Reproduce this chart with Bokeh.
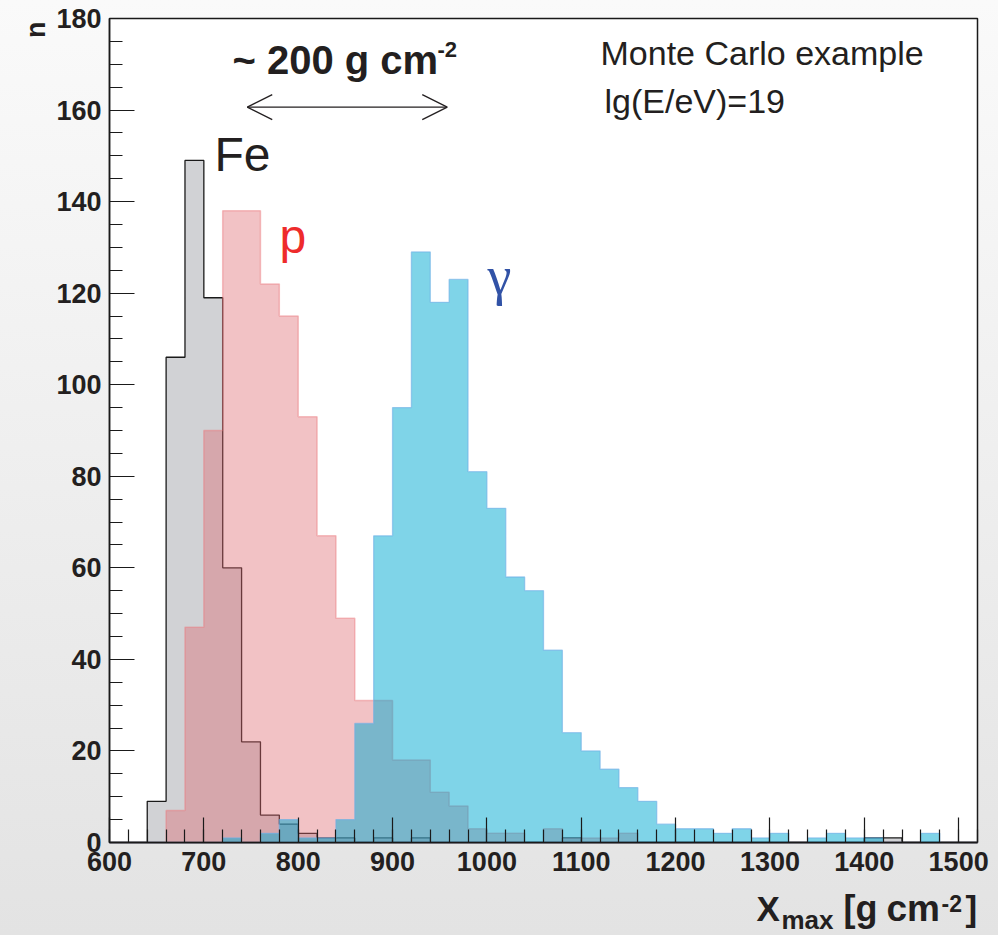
from bokeh.plotting import figure
from bokeh.models import (Range1d, SingleIntervalTicker, Label, Arrow, OpenHead,
                          LinearAxis)
from bokeh.embed import file_html
from bokeh.resources import INLINE

# ---- data (Xmax histograms, 20 g/cm^2 bins starting at 600) ----
bin_width = 20
bin_lo = list(range(600, 1520, 20))

fe_counts = [0, 0, 9, 106, 149, 119, 60, 22, 6, 4,
             2, 1, 1, 0, 1, 0, 1, 0, 0, 0,
             0, 0, 0, 0, 1, 0, 0, 0, 0, 0,
             0, 0, 0, 0, 0, 0, 0, 0, 0, 0,
             1, 1, 0, 0, 0, 0]
p_counts = [0, 0, 0, 7, 47, 90, 138, 138, 122, 115,
            93, 67, 49, 31, 31, 18, 18, 11, 8, 3,
            2, 2, 0, 3, 1, 1, 1, 2, 0, 0,
            0, 0, 0, 0, 0, 0, 0, 0, 0, 0,
            0, 0, 0, 0, 0, 0]
gamma_counts = [0, 0, 0, 0, 0, 0, 1, 0, 2, 5,
                1, 1, 5, 26, 67, 95, 129, 118, 123, 81,
                73, 58, 55, 42, 24, 20, 16, 12, 9, 4,
                3, 3, 2, 3, 1, 2, 0, 1, 2, 1,
                1, 0, 0, 2, 0, 0]

x_lim = (600, 1520)
y_lim = (0, 180)
x_tick_interval = 100
y_tick_interval = 20

# ---- layout: plot box inside the 998x935 canvas (pixels) ----
W, H = 998, 935
BOX_L, BOX_R, BOX_T, BOX_B = 109, 977, 18, 842
sx = (BOX_R - BOX_L) / (x_lim[1] - x_lim[0])
sy = (BOX_B - BOX_T) / (y_lim[1] - y_lim[0])
x_start = x_lim[0] - BOX_L / sx
x_end = x_lim[1] + (W - BOX_R) / sx
y_start = y_lim[0] - (H - BOX_B) / sy
y_end = y_lim[1] + BOX_T / sy


def px2x(px):
    return x_start + px / sx


def py2y(py):
    return y_end - py / sy


def step_polygon(lo, counts, w):
    xs = [lo[0]]
    ys = [0]
    for x, c in zip(lo, counts):
        xs += [x, x + w]
        ys += [c, c]
    xs.append(lo[-1] + w)
    ys.append(0)
    return xs, ys


FONT = "Liberation Sans"
INK = "#231f20"

p = figure(width=W, height=H,
           x_range=Range1d(x_start, x_end), y_range=Range1d(y_start, y_end),
           output_backend="svg", toolbar_location=None,
           x_axis_location=None, y_axis_location=None, min_border=0)

p.background_fill_alpha = 0
p.border_fill_alpha = 0
p.styles = {"background": "linear-gradient(180deg, #fafafa 0%, #e3e3e3 100%)"}
p.outline_line_color = None
p.grid.visible = False

# plot box
p.quad(left=[x_lim[0]], right=[x_lim[1]], bottom=[y_lim[0]], top=[y_lim[1]],
       fill_color="white", line_color="#1a1a1a", line_width=1.5)

# ---- histograms ----
fx, fy = step_polygon(bin_lo, fe_counts, bin_width)
p.patch(fx, fy, fill_color="#d1d2d5", fill_alpha=1.0,
        line_color="#1a1a1a", line_width=1.3)

px_, py_ = step_polygon(bin_lo, p_counts, bin_width)
p.patch(px_, py_, fill_color=(222, 102, 110), fill_alpha=0.4,
        line_color=(235, 120, 125), line_alpha=0.45, line_width=1.5)

gx, gy = step_polygon(bin_lo, gamma_counts, bin_width)
p.patch(gx, gy, fill_color=(0, 170, 210), fill_alpha=0.5,
        line_color=(110, 175, 230), line_alpha=0.6, line_width=1.3)

# ---- axes (ROOT style: ticks inside the box) ----
xa = LinearAxis(fixed_location=y_lim[0], bounds=x_lim,
                ticker=SingleIntervalTicker(interval=x_tick_interval, num_minor_ticks=5))
ya = LinearAxis(fixed_location=x_lim[0], bounds=y_lim,
                ticker=SingleIntervalTicker(interval=y_tick_interval, num_minor_ticks=4))
for ax in (xa, ya):
    ax.major_tick_in = 25
    ax.major_tick_out = 0
    ax.minor_tick_in = 13
    ax.minor_tick_out = 0
    ax.axis_line_color = "#1a1a1a"
    ax.axis_line_width = 1.5
    ax.major_tick_line_color = "#1a1a1a"
    ax.minor_tick_line_color = "#1a1a1a"
    ax.major_tick_line_width = 1.2
    ax.minor_tick_line_width = 1.2
    ax.major_label_text_font = FONT
    ax.major_label_text_font_style = "bold"
    ax.major_label_text_font_size = "27px"
    ax.major_label_text_color = INK
xa.major_label_standoff = 9
ya.major_label_standoff = 8
p.add_layout(xa, "below")
p.add_layout(ya, "left")

# ---- annotations (positions = text baseline start in canvas pixels) ----
SHIFT = 0.36  # Label places the alphabetic baseline this many em below its anchor


def lab(px, py, text, size_px, color=INK, bold=False, font=FONT, rotated=False, **kw):
    if rotated:
        px = px - SHIFT * size_px
    else:
        py = py - SHIFT * size_px
    l = Label(x=px2x(px), y=py2y(py), text=text, text_font=font,
              text_font_size=f"{size_px}px", text_color=color,
              text_font_style="bold" if bold else "normal",
              text_baseline="alphabetic",
              angle=1.5708 if rotated else 0, **kw)
    p.add_layout(l)
    return l


lab(214, 171.7, "Fe", 48)
lab(279, 253, "p", 48, color="#ee2b2b")
lab(487, 295, "γ", 54, color="#3152a6", font="Liberation Serif")

lab(232, 74, "~ 200 g cm", 40, bold=True)
lab(437, 57, "-2", 22, bold=True)

arrow_y = py2y(106.7)
p.add_layout(Arrow(x_start=746, y_start=arrow_y, x_end=958, y_end=arrow_y,
                   line_color=INK, line_width=1.3,
                   start=OpenHead(size=25, line_color=INK, line_width=1.3),
                   end=OpenHead(size=25, line_color=INK, line_width=1.3)))

lab(600, 65, "Monte Carlo example", 34)
lab(604, 113, "lg(E/eV)=19", 34)

# axis titles
lab(756, 921, "X", 35, bold=True)
lab(781, 929, "max", 26, bold=True)
lab(843, 921, "[g", 36, bold=True)
lab(886, 921, "cm", 37, bold=True)
lab(941, 911, "-2", 23, bold=True)
lab(965, 921, "]", 35, bold=True)
lab(45, 21, "n", 27, bold=True, rotated=True, text_align="right")

open("out.html", "w").write(file_html(p, INLINE))
